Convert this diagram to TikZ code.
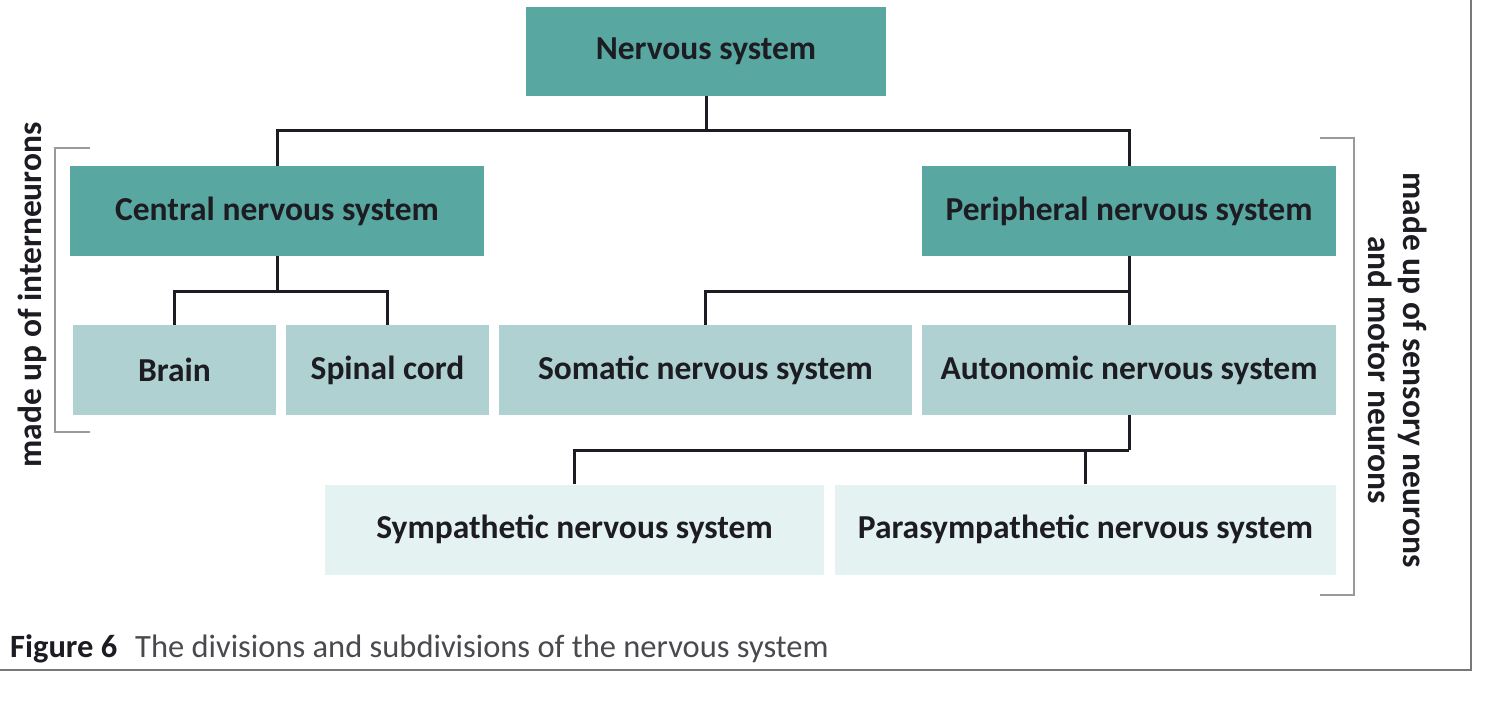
\documentclass[tikz,border=0pt]{standalone}
\usepackage{fontspec}
\setmainfont{Carlito}
\usepackage{tikz}

\definecolor{tealdark}{HTML}{58A7A1}
\definecolor{tealmid}{HTML}{AFD1D1}
\definecolor{teallight}{HTML}{E4F2F1}
\definecolor{inkdark}{HTML}{1C1C22}
\definecolor{framegray}{HTML}{787878}
\definecolor{bracketgray}{HTML}{9A9A9A}

\tikzset{
  box/.style={rectangle, inner sep=0pt, text=inkdark,
    font=\fontsize{33.5}{40}\selectfont\bfseries},
  topbox/.style={box, fill=tealdark},
  midbox/.style={box, fill=tealmid},
  lowbox/.style={box, fill=teallight},
  link/.style={draw=inkdark, line width=3pt},
  brace/.style={draw=bracketgray, line width=2pt},
  sidenote/.style={text=inkdark, inner sep=0pt, font=\fontsize{33.5}{35}\selectfont\bfseries},
}

\begin{document}
\begin{tikzpicture}[x=1pt,y=-1pt]
\useasboundingbox (0,0) rectangle (1496,722);

% boxes
\node [topbox, minimum width=360, minimum height=89] (ns) at (706,51.5) {Nervous system};
\node [topbox, minimum width=414, minimum height=90] (cns) at (277,211) {Central nervous system};
\node [topbox, minimum width=414, minimum height=90] (pns) at (1129,211) {Peripheral nervous system};

\node [midbox, minimum width=203, minimum height=90] (brain) at (174.5,370) {Brain};
\node [midbox, minimum width=203, minimum height=90] (spinal) at (387.5,370) {Spinal cord};
\node [midbox, minimum width=413, minimum height=90] (somatic) at (705.5,370) {Somatic nervous system};
\node [midbox, minimum width=414, minimum height=90] (auto) at (1129,370) {Autonomic nervous system};

\node [lowbox, minimum width=499, minimum height=90] (symp) at (574.5,529.5) {Sympathetic nervous system};
\node [lowbox, minimum width=501, minimum height=90] (para) at (1085.5,529.5) {Parasympathetic nervous system};

% junctions
\coordinate (jtop) at (706,131);
\coordinate (jcns) at (277,291);
\coordinate (jpns) at (1129,291);
\coordinate (jauto) at (1129,450);

% connectors
\draw [link] (ns.south) -- (jtop);
\draw [link] (cns.north) |- (jtop) -| (pns.north);
\draw [link] (cns.south) -- (jcns);
\draw [link] (brain.north) |- (jcns) -| (spinal.north);
\draw [link] (pns.south) -- (jpns);
\draw [link] (somatic.north) |- (jpns) -- (auto.north);
\draw [link] (auto.south) -- (jauto);
\draw [link] (symp.north) |- (jauto);
\draw [link] (para.north) -- (para.north |- jauto);

% brackets and side notes
\draw [brace] (90,148) -- (55,148) -- (55,432) -- (90,432);
\node [sidenote, rotate=90] (inter) at (32,295) {made up of interneurons};

\draw [brace] (1320,138) -- (1354,138) -- (1354,595) -- (1320,595);
\node [sidenote, rotate=-90, align=center] (sensory) at (1398,370)
  {made up of sensory neurons\\and motor neurons};

% caption and frame
\node [anchor=base west, inner sep=0pt, text=inkdark, font=\fontsize{32.5}{38}\selectfont] (caption) at (10,657)
  {\textbf{Figure 6}\hspace{0.55em}{\color{inkdark!80}The divisions and subdivisions of the nervous system}};

\draw [framegray, line width=2.5pt] (0,670) -- (1471,670) -- (1471,0);
\end{tikzpicture}
\end{document}
